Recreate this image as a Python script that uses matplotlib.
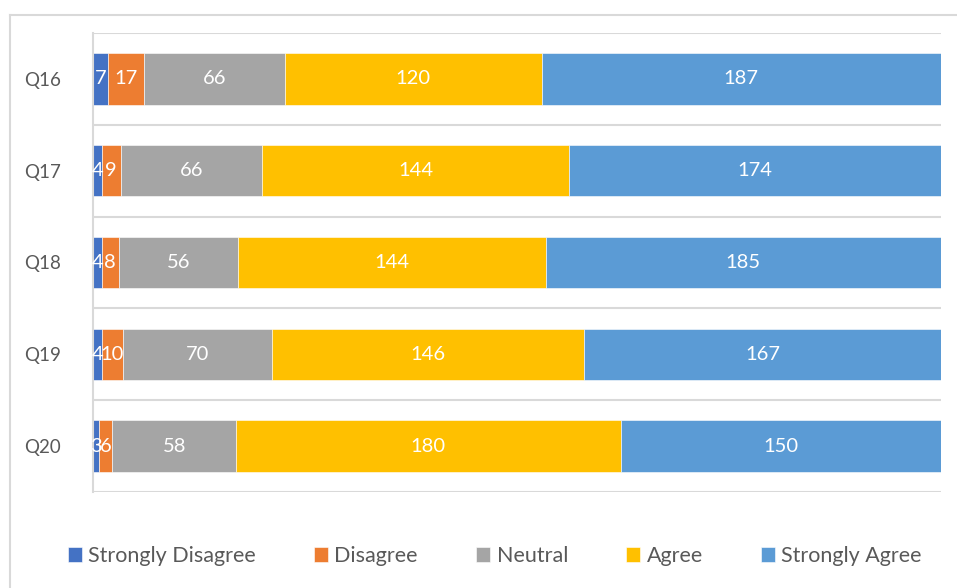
import numpy as np
import matplotlib.pyplot as plt
from matplotlib.lines import Line2D

# survey answers, one list per answer level
questions = ["Q16", "Q17", "Q18", "Q19", "Q20"]
strongly_disagree = [7, 4, 4, 4, 3]
disagree = [17, 9, 8, 10, 6]
neutral = [66, 66, 56, 70, 58]
agree = [120, 144, 144, 146, 180]
strongly_agree = [187, 174, 185, 167, 150]

levels = ["Strongly Disagree", "Disagree", "Neutral", "Agree", "Strongly Agree"]
colors = ["#4472C4", "#ED7D31", "#A5A5A5", "#FFC000", "#5B9BD5"]

plt.rcParams['font.family'] = ['Lato', 'DejaVu Sans']

fig = plt.figure(figsize=(9.57, 5.88), dpi=100)
ax = fig.add_axes([93/957, 1-492/588, 848/957, 459/588])

series = [strongly_disagree, disagree, neutral, agree, strongly_agree]
ypos = np.arange(len(questions))
left = np.zeros(len(questions))
for vals, col, name in zip(series, colors, levels):
    vals = np.array(vals)
    ax.barh(ypos, vals, left=left, height=0.56, color=col, edgecolor="white",
            linewidth=0.4, label=name)
    for y, l, v in zip(ypos, left, vals):
        ax.text(l + v/2, y, str(v), ha="center", va="center", color="white", fontsize=14.5)
    left = left + vals

ax.set_xlim(0, left.max())
ax.set_ylim(len(questions)-0.5, -0.5)
ax.set_yticks(ypos)
ax.set_yticklabels(questions, fontsize=13.5, color="#595959")
ax.tick_params(axis="y", length=0, pad=23)
ax.set_xticks([])

# category separators
for b in np.arange(-0.5, len(questions)):
    ax.axhline(b, color="#D9D9D9", lw=1.5, zorder=0)
for s in ["top", "right", "bottom"]:
    ax.spines[s].set_visible(False)
ax.spines["left"].set_color("#D9D9D9")
ax.spines["left"].set_linewidth(1.5)

# chart frame
fig.add_artist(Line2D([10/957, 1], [1-15/588, 1-15/588], color="#D9D9D9", lw=1.5))
fig.add_artist(Line2D([10/957, 10/957], [0, 1-15/588], color="#D9D9D9", lw=1.5))

fig.legend(loc="center", bbox_to_anchor=(0.517, 1-556/588), ncol=5, frameon=False,
           fontsize=15.5, handlelength=0.65, handleheight=0.65, handletextpad=0.3,
           columnspacing=2.7, labelcolor="#595959")

fig.savefig("out.png", dpi=100)
